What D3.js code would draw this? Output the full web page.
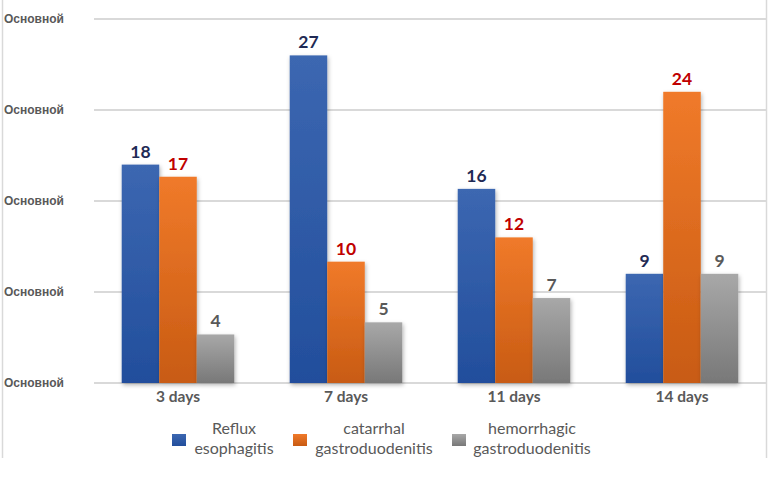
<!DOCTYPE html>
<html>
<head>
<meta charset="utf-8">
<script src="https://cdn.jsdelivr.net/npm/d3@7"></script>
<style>
  body { margin: 0; background: #fff; }
  svg { display: block; }
</style>
</head>
<body>
<div id="chart"></div>
<script>
// data
var categories = ["3 days", "7 days", "11 days", "14 days"];
var seriesNames = ["Reflux esophagitis", "catarrhal gastroduodenitis", "hemorrhagic gastroduodenitis"];
var reflux = [18, 27, 16, 9];
var catarrhal = [17, 10, 12, 24];
var hemorrhagic = [4, 5, 7, 9];
var tickValues = [0, 7.5, 15, 22.5, 30];
var tickLabel = "Основной";

var series = [reflux, catarrhal, hemorrhagic];
var legendLines = [["Reflux", "esophagitis"], ["catarrhal", "gastroduodenitis"], ["hemorrhagic", "gastroduodenitis"]];

var colors = [
  {top: "#3c67b1", bottom: "#224e9c", label: "#1f2a55"},
  {top: "#f07a2a", bottom: "#c85b13", label: "#c00000"},
  {top: "#a8a8a8", bottom: "#787878", label: "#595959"}
];

var W = 769, H = 478;
var margin = {top: 19, right: 3, bottom: 95, left: 94};

var svg = d3.select("#chart").append("svg")
    .attr("width", W)
    .attr("height", H);

var defs = svg.append("defs");
colors.forEach(function (c, i) {
  var g = defs.append("linearGradient")
      .attr("id", "grad" + i)
      .attr("x1", 0).attr("y1", 0).attr("x2", 0).attr("y2", 1);
  g.append("stop").attr("offset", "0%").attr("stop-color", c.top);
  g.append("stop").attr("offset", "100%").attr("stop-color", c.bottom);
});
var shadow = defs.append("filter").attr("id", "shadow")
    .attr("x", "-20%").attr("y", "-10%").attr("width", "140%").attr("height", "130%");
shadow.append("feDropShadow")
    .attr("dx", 1).attr("dy", 2).attr("stdDeviation", 2)
    .attr("flood-color", "#000").attr("flood-opacity", 0.3);

// outer border lines left/right
svg.append("line").attr("x1", 2.5).attr("x2", 2.5).attr("y1", 0).attr("y2", 458)
    .attr("stroke", "#d9d9d9").attr("stroke-width", 1.5);
svg.append("line").attr("x1", 766.5).attr("x2", 766.5).attr("y1", 0).attr("y2", 458)
    .attr("stroke", "#d9d9d9").attr("stroke-width", 1.5);

var x0 = d3.scaleBand()
    .domain(categories)
    .range([margin.left, W - margin.right])
    .paddingInner(0.33)
    .paddingOuter(0.165);

var x1 = d3.scaleBand()
    .domain(d3.range(series.length))
    .range([0, x0.bandwidth()]);

var y = d3.scaleLinear()
    .domain([0, 30])
    .range([383, margin.top]);

// gridlines
svg.append("g")
  .selectAll("line")
  .data(tickValues)
  .join("line")
    .attr("x1", margin.left)
    .attr("x2", W - margin.right)
    .attr("y1", function (d) { return y(d); })
    .attr("y2", function (d) { return y(d); })
    .attr("stroke", "#d9d9d9")
    .attr("stroke-width", 2);

// y labels (all say the same thing in the original)
svg.append("g")
  .selectAll("text")
  .data(tickValues)
  .join("text")
    .attr("x", 4)
    .attr("y", function (d) { return y(d) + 4; })
    .attr("font-family", "Liberation Sans, Arial, sans-serif")
    .attr("font-weight", "bold")
    .attr("font-size", 12)
    .attr("fill", "#595959")
    .text(tickLabel);

// bars
var groups = svg.append("g")
  .selectAll("g")
  .data(categories)
  .join("g")
    .attr("transform", function (d) { return "translate(" + x0(d) + ",0)"; });

groups.selectAll("rect")
  .data(function (d, i) { return series.map(function (s, j) { return {s: j, v: s[i]}; }); })
  .join("rect")
    .attr("x", function (d) { return x1(d.s); })
    .attr("width", x1.bandwidth())
    .attr("y", function (d) { return y(d.v); })
    .attr("height", function (d) { return y(0) - y(d.v); })
    .attr("fill", function (d) { return "url(#grad" + d.s + ")"; })
    .attr("filter", "url(#shadow)");

groups.selectAll("text")
  .data(function (d, i) { return series.map(function (s, j) { return {s: j, v: s[i]}; }); })
  .join("text")
    .attr("x", function (d) { return x1(d.s) + x1.bandwidth() / 2; })
    .attr("y", function (d) { return y(d.v) - 7; })
    .attr("text-anchor", "middle")
    .attr("font-family", "Lato, 'Open Sans', sans-serif")
    .attr("font-weight", "bold")
    .attr("font-size", 17.5)
    .attr("fill", function (d) { return colors[d.s].label; })
    .text(function (d) { return d.v; });

// category labels
svg.append("g")
  .selectAll("text")
  .data(categories)
  .join("text")
    .attr("x", function (d) { return x0(d) + x0.bandwidth() / 2; })
    .attr("y", 402)
    .attr("text-anchor", "middle")
    .attr("font-family", "Lato, 'Open Sans', sans-serif")
    .attr("font-weight", "bold")
    .attr("font-size", 15.5)
    .attr("fill", "#595959")
    .text(function (d) { return d; });

// legend
var legendX = [172, 293, 452];
var legendTextX = [234, 374, 532];
var legend = svg.append("g")
  .selectAll("g")
  .data(seriesNames)
  .join("g");

legend.append("rect")
    .attr("x", function (d, i) { return legendX[i]; })
    .attr("y", 434)
    .attr("width", 14)
    .attr("height", 12)
    .attr("fill", function (d, i) { return "url(#grad" + i + ")"; });

legend.append("text")
    .attr("text-anchor", "middle")
    .attr("font-family", "Lato, 'Open Sans', sans-serif")
    .attr("font-size", 16)
    .attr("fill", "#595959")
  .selectAll("tspan")
  .data(function (d, i) { return legendLines[i].map(function (t) { return {t: t, i: i}; }); })
  .join("tspan")
    .attr("x", function (d) { return legendTextX[d.i]; })
    .attr("y", function (d, k) { return 434 + k * 20; })
    .text(function (d) { return d.t; });
</script>
</body>
</html>
